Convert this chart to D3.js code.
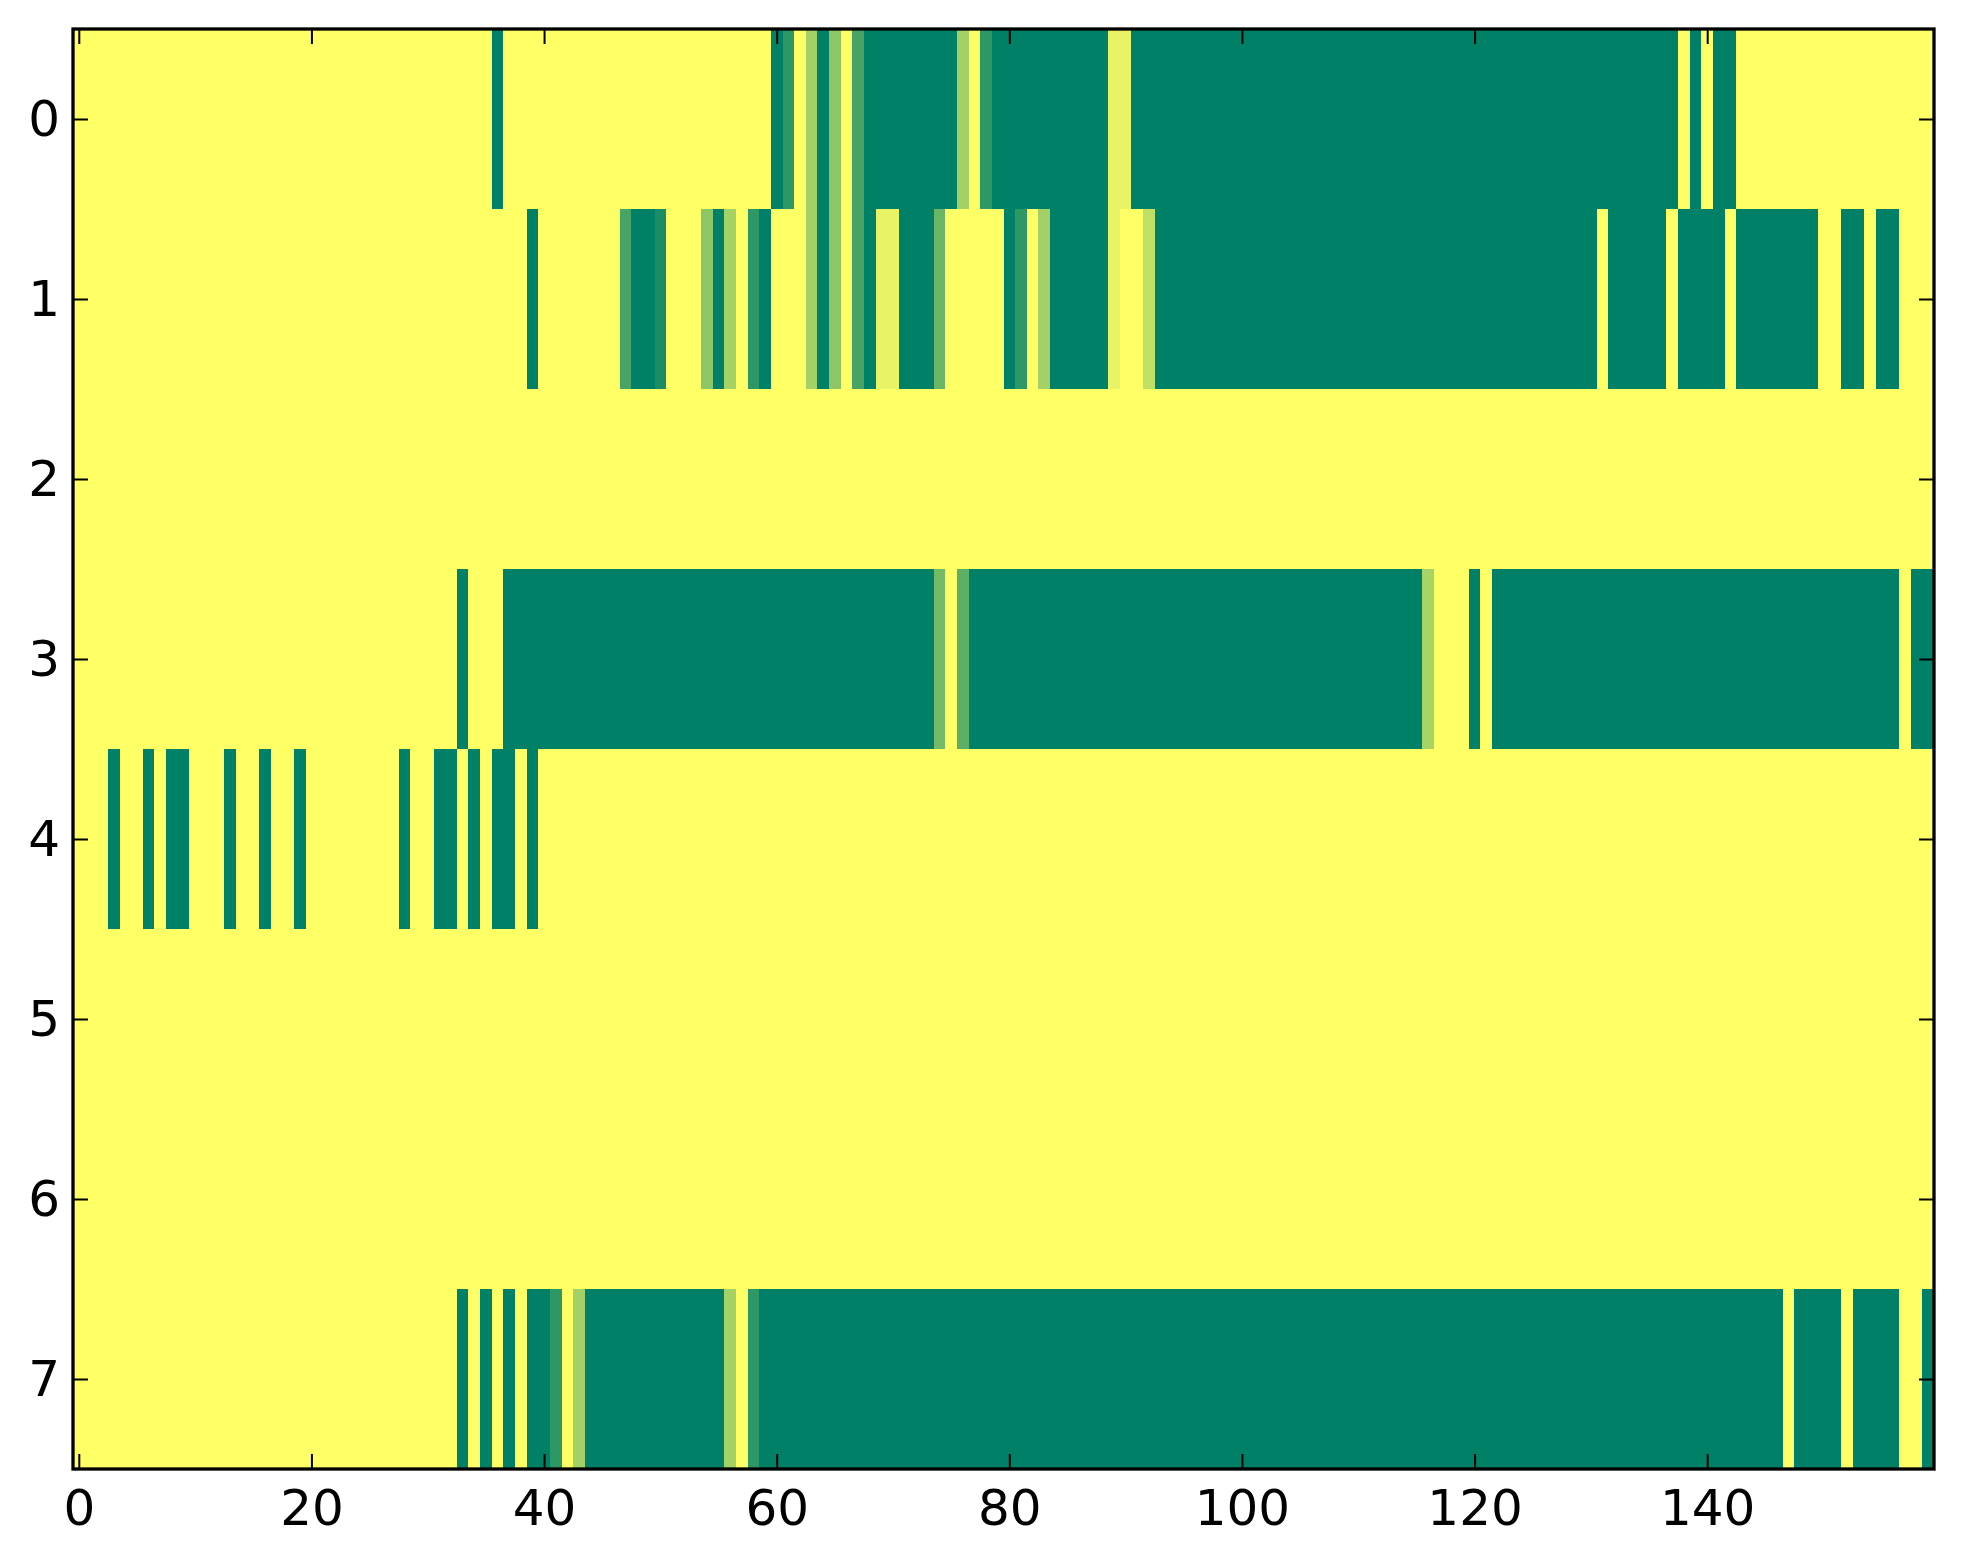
<!DOCTYPE html>
<html>
<head>
<meta charset="utf-8">
<script src="https://cdn.jsdelivr.net/npm/d3@7"></script>
<style>
	html, body { margin: 0; padding: 0; background: #fff; }
	svg { display: block; }
	.tick text { font-family: 'DejaVu Sans', sans-serif; }
</style>
</head>
<body>
<svg id="chart"></svg>
<script>
// ------------------------
// Data: one array per image row (0 = green end of the map, 1 = yellow end)
// ------------------------
const row0 = [
	1, 1, 1, 1, 1, 1, 1, 1, 1, 1, 1, 1, 1, 1, 1, 1, 1, 1, 1, 1,
	1, 1, 1, 1, 1, 1, 1, 1, 1, 1, 1, 1, 1, 1, 1, 1, 0, 1, 1, 1,
	1, 1, 1, 1, 1, 1, 1, 1, 1, 1, 1, 1, 1, 1, 1, 1, 1, 1, 1, 1,
	0, 0.18, 1, 0.64, 0, 0.55, 1, 0.28, 0, 0, 0, 0, 0, 0, 0, 0, 0.64, 1, 0.18, 0,
	0, 0, 0, 0, 0, 0, 0, 0, 0, 0.91, 0.91, 0, 0, 0, 0, 0, 0, 0, 0, 0,
	0, 0, 0, 0, 0, 0, 0, 0, 0, 0, 0, 0, 0, 0, 0, 0, 0, 0, 0, 0,
	0, 0, 0, 0, 0, 0, 0, 0, 0, 0, 0, 0, 0, 0, 0, 0, 0, 0, 1, 0,
	1, 0, 0, 1, 1, 1, 1, 1, 1, 1, 1, 1, 1, 1, 1, 1, 1, 1, 1, 1,
];
const row1 = [
	1, 1, 1, 1, 1, 1, 1, 1, 1, 1, 1, 1, 1, 1, 1, 1, 1, 1, 1, 1,
	1, 1, 1, 1, 1, 1, 1, 1, 1, 1, 1, 1, 1, 1, 1, 1, 1, 1, 1, 0,
	1, 1, 1, 1, 1, 1, 1, 0.28, 0, 0, 0.1, 1, 1, 1, 0.55, 0, 0.64, 1, 0.18, 0,
	1, 1, 1, 0.64, 0, 0.55, 1, 0.28, 0, 0.91, 0.91, 0, 0, 0, 0.42, 1, 1, 1, 1, 1,
	0, 0.18, 1, 0.64, 0, 0, 0, 0, 0, 0.91, 1, 1, 0.75, 0, 0, 0, 0, 0, 0, 0,
	0, 0, 0, 0, 0, 0, 0, 0, 0, 0, 0, 0, 0, 0, 0, 0, 0, 0, 0, 0,
	0, 0, 0, 0, 0, 0, 0, 0, 0, 0, 0, 1, 0, 0, 0, 0, 0, 1, 0, 0,
	0, 0, 1, 0, 0, 0, 0, 0, 0, 0, 1, 1, 0, 0, 1, 0, 0, 1, 1, 1,
];
const row2 = [
	1, 1, 1, 1, 1, 1, 1, 1, 1, 1, 1, 1, 1, 1, 1, 1, 1, 1, 1, 1,
	1, 1, 1, 1, 1, 1, 1, 1, 1, 1, 1, 1, 1, 1, 1, 1, 1, 1, 1, 1,
	1, 1, 1, 1, 1, 1, 1, 1, 1, 1, 1, 1, 1, 1, 1, 1, 1, 1, 1, 1,
	1, 1, 1, 1, 1, 1, 1, 1, 1, 1, 1, 1, 1, 1, 1, 1, 1, 1, 1, 1,
	1, 1, 1, 1, 1, 1, 1, 1, 1, 1, 1, 1, 1, 1, 1, 1, 1, 1, 1, 1,
	1, 1, 1, 1, 1, 1, 1, 1, 1, 1, 1, 1, 1, 1, 1, 1, 1, 1, 1, 1,
	1, 1, 1, 1, 1, 1, 1, 1, 1, 1, 1, 1, 1, 1, 1, 1, 1, 1, 1, 1,
	1, 1, 1, 1, 1, 1, 1, 1, 1, 1, 1, 1, 1, 1, 1, 1, 1, 1, 1, 1,
];
const row3 = [
	1, 1, 1, 1, 1, 1, 1, 1, 1, 1, 1, 1, 1, 1, 1, 1, 1, 1, 1, 1,
	1, 1, 1, 1, 1, 1, 1, 1, 1, 1, 1, 1, 1, 0, 1, 1, 1, 0, 0, 0,
	0, 0, 0, 0, 0, 0, 0, 0, 0, 0, 0, 0, 0, 0, 0, 0, 0, 0, 0, 0,
	0, 0, 0, 0, 0, 0, 0, 0, 0, 0, 0, 0, 0, 0, 0.45, 1, 0.37, 0, 0, 0,
	0, 0, 0, 0, 0, 0, 0, 0, 0, 0, 0, 0, 0, 0, 0, 0, 0, 0, 0, 0,
	0, 0, 0, 0, 0, 0, 0, 0, 0, 0, 0, 0, 0, 0, 0, 0, 0.66, 1, 1, 1,
	0, 1, 0, 0, 0, 0, 0, 0, 0, 0, 0, 0, 0, 0, 0, 0, 0, 0, 0, 0,
	0, 0, 0, 0, 0, 0, 0, 0, 0, 0, 0, 0, 0, 0, 0, 0, 0, 1, 0, 0,
];
const row4 = [
	1, 1, 1, 0, 1, 1, 0, 1, 0, 0, 1, 1, 1, 0, 1, 1, 0, 1, 1, 0,
	1, 1, 1, 1, 1, 1, 1, 1, 0, 1, 1, 0, 0, 1, 0, 1, 0, 0, 1, 0,
	1, 1, 1, 1, 1, 1, 1, 1, 1, 1, 1, 1, 1, 1, 1, 1, 1, 1, 1, 1,
	1, 1, 1, 1, 1, 1, 1, 1, 1, 1, 1, 1, 1, 1, 1, 1, 1, 1, 1, 1,
	1, 1, 1, 1, 1, 1, 1, 1, 1, 1, 1, 1, 1, 1, 1, 1, 1, 1, 1, 1,
	1, 1, 1, 1, 1, 1, 1, 1, 1, 1, 1, 1, 1, 1, 1, 1, 1, 1, 1, 1,
	1, 1, 1, 1, 1, 1, 1, 1, 1, 1, 1, 1, 1, 1, 1, 1, 1, 1, 1, 1,
	1, 1, 1, 1, 1, 1, 1, 1, 1, 1, 1, 1, 1, 1, 1, 1, 1, 1, 1, 1,
];
const row5 = [
	1, 1, 1, 1, 1, 1, 1, 1, 1, 1, 1, 1, 1, 1, 1, 1, 1, 1, 1, 1,
	1, 1, 1, 1, 1, 1, 1, 1, 1, 1, 1, 1, 1, 1, 1, 1, 1, 1, 1, 1,
	1, 1, 1, 1, 1, 1, 1, 1, 1, 1, 1, 1, 1, 1, 1, 1, 1, 1, 1, 1,
	1, 1, 1, 1, 1, 1, 1, 1, 1, 1, 1, 1, 1, 1, 1, 1, 1, 1, 1, 1,
	1, 1, 1, 1, 1, 1, 1, 1, 1, 1, 1, 1, 1, 1, 1, 1, 1, 1, 1, 1,
	1, 1, 1, 1, 1, 1, 1, 1, 1, 1, 1, 1, 1, 1, 1, 1, 1, 1, 1, 1,
	1, 1, 1, 1, 1, 1, 1, 1, 1, 1, 1, 1, 1, 1, 1, 1, 1, 1, 1, 1,
	1, 1, 1, 1, 1, 1, 1, 1, 1, 1, 1, 1, 1, 1, 1, 1, 1, 1, 1, 1,
];
const row6 = [
	1, 1, 1, 1, 1, 1, 1, 1, 1, 1, 1, 1, 1, 1, 1, 1, 1, 1, 1, 1,
	1, 1, 1, 1, 1, 1, 1, 1, 1, 1, 1, 1, 1, 1, 1, 1, 1, 1, 1, 1,
	1, 1, 1, 1, 1, 1, 1, 1, 1, 1, 1, 1, 1, 1, 1, 1, 1, 1, 1, 1,
	1, 1, 1, 1, 1, 1, 1, 1, 1, 1, 1, 1, 1, 1, 1, 1, 1, 1, 1, 1,
	1, 1, 1, 1, 1, 1, 1, 1, 1, 1, 1, 1, 1, 1, 1, 1, 1, 1, 1, 1,
	1, 1, 1, 1, 1, 1, 1, 1, 1, 1, 1, 1, 1, 1, 1, 1, 1, 1, 1, 1,
	1, 1, 1, 1, 1, 1, 1, 1, 1, 1, 1, 1, 1, 1, 1, 1, 1, 1, 1, 1,
	1, 1, 1, 1, 1, 1, 1, 1, 1, 1, 1, 1, 1, 1, 1, 1, 1, 1, 1, 1,
];
const row7 = [
	1, 1, 1, 1, 1, 1, 1, 1, 1, 1, 1, 1, 1, 1, 1, 1, 1, 1, 1, 1,
	1, 1, 1, 1, 1, 1, 1, 1, 1, 1, 1, 1, 1, 0, 1, 0, 1, 0, 1, 0,
	0, 0.18, 1, 0.64, 0, 0, 0, 0, 0, 0, 0, 0, 0, 0, 0, 0, 0.64, 1, 0.18, 0,
	0, 0, 0, 0, 0, 0, 0, 0, 0, 0, 0, 0, 0, 0, 0, 0, 0, 0, 0, 0,
	0, 0, 0, 0, 0, 0, 0, 0, 0, 0, 0, 0, 0, 0, 0, 0, 0, 0, 0, 0,
	0, 0, 0, 0, 0, 0, 0, 0, 0, 0, 0, 0, 0, 0, 0, 0, 0, 0, 0, 0,
	0, 0, 0, 0, 0, 0, 0, 0, 0, 0, 0, 0, 0, 0, 0, 0, 0, 0, 0, 0,
	0, 0, 0, 0, 0, 0, 0, 1, 0, 0, 0, 0, 1, 0, 0, 0, 0, 1, 1, 0,
];

const rows = [ row0, row1, row2, row3, row4, row5, row6, row7 ];
const xTicks = [ 0, 20, 40, 60, 80, 100, 120, 140 ];
const yTicks = [ 0, 1, 2, 3, 4, 5, 6, 7 ];

// summer colormap end points
const colorLow = '#008066';
const colorHigh = '#ffff66';

// ------------------------

const width = 1963;
const height = 1564;
const margin = { top: 29, right: 29, bottom: 95, left: 73 };
const tickLen = 15;

render( '#chart' );

function render( ref ) {
	const svg = d3.select( ref )
		.attr( 'width', width )
		.attr( 'height', height )
		.attr( 'viewBox', `0 0 ${ width } ${ height }` );

	svg.selectAll( '*' ).remove();

	const nCols = rows[ 0 ].length;
	const nRows = rows.length;

	// pixel centres sit on integers, like imshow
	const xScale = d3.scaleLinear()
		.domain( [ -0.5, nCols - 0.5 ] )
		.range( [ margin.left, width - margin.right ] );

	const yScale = d3.scaleLinear()
		.domain( [ -0.5, nRows - 0.5 ] )
		.range( [ margin.top, height - margin.bottom ] );

	const color = d3.scaleLinear()
		.domain( [ 0, 1 ] )
		.range( [ colorLow, colorHigh ] );

	svg.call( renderCells, xScale, yScale, color );
	svg.call( renderAxes, xScale, yScale );
}

function renderCells( svg, xScale, yScale, color ) {
	const cells = rows.flatMap( ( row, r ) => row.map( ( v, c ) => ( { r, c, v } ) ) );

	svg.append( 'g' )
		.attr( 'shape-rendering', 'crispEdges' )
		.selectAll( 'rect' )
		.data( cells )
		.join( 'rect' )
		.attr( 'x', d => xScale( d.c - 0.5 ) )
		.attr( 'y', d => yScale( d.r - 0.5 ) )
		.attr( 'width', d => xScale( d.c + 0.5 ) - xScale( d.c - 0.5 ) + 0.5 )
		.attr( 'height', d => yScale( d.r + 0.5 ) - yScale( d.r - 0.5 ) + 0.5 )
		.attr( 'fill', d => color( d.v ) );
}

function renderAxes( svg, xScale, yScale ) {
	const [ x0, x1 ] = xScale.range();
	const [ y0, y1 ] = yScale.range();

	const bottom = svg.append( 'g' )
		.attr( 'transform', `translate(0, ${ y1 })` )
		.call( d3.axisBottom( xScale )
			.tickValues( xTicks )
			.tickSizeInner( -tickLen )
			.tickSizeOuter( 0 )
			.tickPadding( 20 ) );

	const top = svg.append( 'g' )
		.attr( 'transform', `translate(0, ${ y0 })` )
		.call( d3.axisTop( xScale )
			.tickValues( xTicks )
			.tickSizeInner( -tickLen )
			.tickSizeOuter( 0 )
			.tickFormat( '' ) );

	const left = svg.append( 'g' )
		.attr( 'transform', `translate(${ x0 }, 0)` )
		.call( d3.axisLeft( yScale )
			.tickValues( yTicks )
			.tickSizeInner( -tickLen )
			.tickSizeOuter( 0 )
			.tickPadding( 13 ) );

	const right = svg.append( 'g' )
		.attr( 'transform', `translate(${ x1 }, 0)` )
		.call( d3.axisRight( yScale )
			.tickValues( yTicks )
			.tickSizeInner( -tickLen )
			.tickSizeOuter( 0 )
			.tickFormat( '' ) );

	[ bottom, top, left, right ].forEach( g => {
		g.select( '.domain' ).remove();
		g.selectAll( 'line' )
			.attr( 'stroke', '#000' )
			.attr( 'stroke-width', 2 );
		g.selectAll( 'text' )
			.attr( 'fill', '#000' )
			.style( 'font-size', '50px' );
	} );

	// frame drawn last so it sits over the cells
	svg.append( 'rect' )
		.attr( 'x', x0 )
		.attr( 'y', y0 )
		.attr( 'width', x1 - x0 )
		.attr( 'height', y1 - y0 )
		.attr( 'fill', 'none' )
		.attr( 'stroke', '#000' )
		.attr( 'stroke-width', 3.3 );
}
</script>
</body>
</html>
